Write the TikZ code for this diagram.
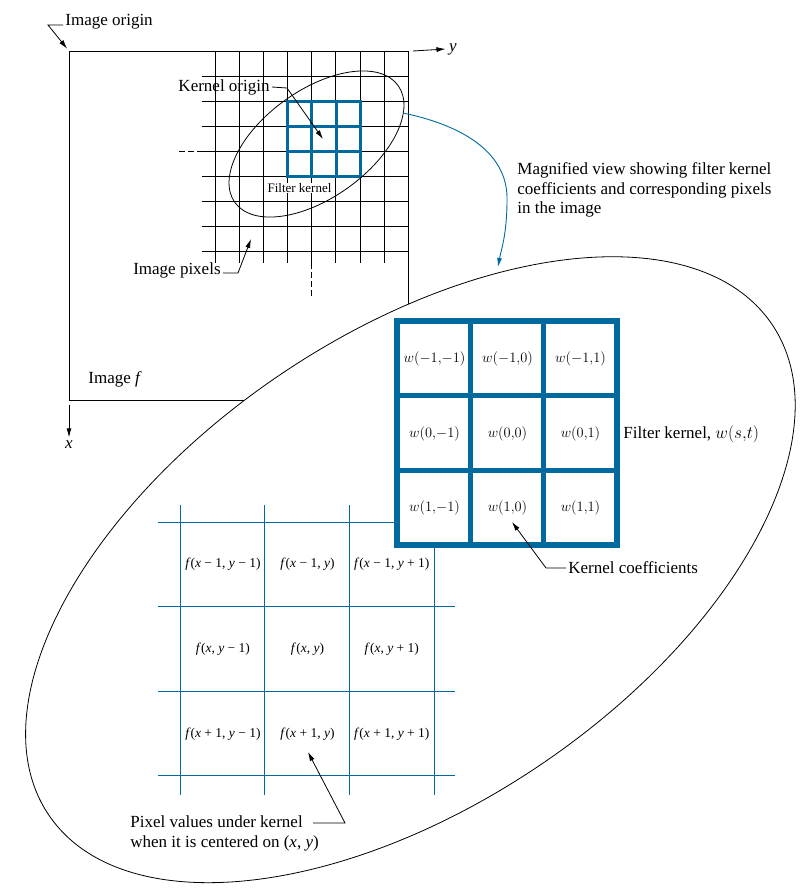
\documentclass[tikz,border=0pt]{standalone}
\usepackage{fontspec}
\setmainfont{Liberation Serif}
\usetikzlibrary{arrows.meta,positioning}
\definecolor{kblue}{RGB}{0,106,158}
\tikzset{
  lbl/.style={font=\fontsize{17}{19.5}\selectfont, inner sep=2pt},
  cell/.style={font=\fontsize{13.5}{16}\selectfont, inner sep=1pt},
  lead/.style={line width=0.8pt, -{Latex[length=9pt,width=5pt]}},
}
\begin{document}
\begin{tikzpicture}[x=1pt, y=-1pt, line width=0.8pt]
    \useasboundingbox (0,0) rectangle (811,895);

    % Image and axes
    \coordinate (tl) at (69,51);
    \coordinate (tr) at (408,51);
    \coordinate (bl) at (69,400);
    \draw (tl) rectangle (408,400);
    \node (yax) at (453,49) {\fontsize{17}{19}\selectfont\textit{y}};
    \node (xax) at (69,445) {\fontsize{17}{19}\selectfont\textit{x}};
    \draw[lead] ([xshift=5pt]tr) -- (yax.west);
    \draw[lead] ([yshift=-5pt]bl) -- (xax.north);

    % Image pixels
    \foreach \i in {0,...,7} \draw (215.3+24.1*\i,51) -- (215.3+24.1*\i,263);
    \foreach \j in {0,...,7} \draw (202,76+25*\j) -- (408,76+25*\j);
    \draw[dash pattern=on 6pt off 3pt] (179,151) -- (202,151);
    \draw[dash pattern=on 6pt off 3pt] (311.7,263) -- (311.7,296);

    % Small kernel
    \draw[kblue, line width=3pt] (287.3,101) rectangle (360.7,176);
    \foreach \i in {1,2} \draw[kblue, line width=3pt] (287.3+24.47*\i,101) -- ++(0,75);
    \foreach \j in {1,2} \draw[kblue, line width=3pt] (287.3,101+25*\j) -- ++(73.4,0);
    \draw (316.5,144) ellipse [x radius=100.4, y radius=53.9, rotate=35.6];
    \node[fill=white, inner sep=0.5pt, font=\fontsize{13}{15}\selectfont] (fk) at (299.5,188) {Filter kernel};

    % Labels of the image
    \node[lbl, anchor=west] (iorigin) at (63,22) {Image origin};
    \draw[lead, shorten >=3pt] ([yshift=-3pt]iorigin.west) -- ++(-15,0) -- (tl);
    \coordinate (kmid) at (323,139);
    \node[lbl, anchor=east] (korigin) at (272,87) {Kernel origin};
    \draw[lead] (korigin.east) -- ++(15,1) -- (kmid);
    \coordinate (pix) at (251,239);
    \node[lbl, anchor=east] (ipix) at (223,270) {Image pixels};
    \draw[lead] ([yshift=-3pt]ipix.east) -- ++(15,0) -- (pix);
    \node[lbl, anchor=west] (imf) at (86,379) {Image \textit{f}};

    % Magnified view
    \draw[fill=white] (410.4,569.7) ellipse [x radius=437, y radius=234.5, rotate=34.2];
    \coordinate (smallright) at (403,113);
    \coordinate (bigtop) at (498,267);
    \draw[kblue, line width=0.9pt, -{Latex[length=9pt,width=5pt]}]
        (smallright) .. controls (475,128) and (508,160) .. (507,200)
        .. controls (507,235) and (501,250) .. (bigtop);
    \node[lbl, anchor=west, align=left] (mag) at (515,190)
        {Magnified view showing filter kernel\\coefficients and corresponding pixels\\in the image};

    % Pixel values
    \foreach \i in {0,...,3} \draw[kblue, line width=1pt] (180+84.7*\i,505) -- (180+84.7*\i,795);
    \foreach \j in {0,...,3} \draw[kblue, line width=1pt] (158,522.3+84.5*\j) -- (455,522.3+84.5*\j);
    \node[cell] (f11) at (222.9,564.5) {\textit{f}(\textit{x} − 1, \textit{y} − 1)};
    \node[cell] (f12) at (307.5,564.5) {\textit{f}(\textit{x} − 1, \textit{y})};
    \node[cell] (f13) at (391.8,564.5) {\textit{f}(\textit{x} − 1, \textit{y} + 1)};
    \node[cell] (f21) at (222.9,649.2) {\textit{f}(\textit{x}, \textit{y} − 1)};
    \node[cell] (f22) at (307.5,649.2) {\textit{f}(\textit{x}, \textit{y})};
    \node[cell] (f23) at (391.8,649.2) {\textit{f}(\textit{x}, \textit{y} + 1)};
    \node[cell] (f31) at (222.9,733.7) {\textit{f}(\textit{x} + 1, \textit{y} − 1)};
    \node[cell] (f32) at (307.5,733.7) {\textit{f}(\textit{x} + 1, \textit{y})};
    \node[cell] (f33) at (391.8,733.7) {\textit{f}(\textit{x} + 1, \textit{y} + 1)};

    % Big kernel
    \filldraw[fill=white, draw=kblue, line width=5.5pt] (397,321) rectangle (617,545);
    \foreach \i in {1,2} \draw[kblue, line width=5.5pt] (397+73.33*\i,321) -- ++(0,224);
    \foreach \j in {1,2} \draw[kblue, line width=5.5pt] (397,321+74.67*\j) -- ++(220,0);
    \node[cell] (w11) at (434.5,359) {$w({-1}{,}{-1})$};
    \node[cell] (w12) at (507.5,359) {$w({-1}{,}0)$};
    \node[cell] (w13) at (580.5,359) {$w({-1}{,}1)$};
    \node[cell] (w21) at (434.5,434) {$w(0{,}{-1})$};
    \node[cell] (w22) at (507.5,434) {$w(0{,}0)$};
    \node[cell] (w23) at (580.5,434) {$w(0{,}1)$};
    \node[cell] (w31) at (434.5,508) {$w(1{,}{-1})$};
    \node[cell] (w32) at (507.5,508) {$w(1{,}0)$};
    \node[cell] (w33) at (580.5,508) {$w(1{,}1)$};
    \node[lbl, anchor=west] (fklabel) at (621,434) {Filter kernel, $w(s{,}t)$};

    % Leaders to the magnified view
    \coordinate (wtip) at (512,522);
    \node[lbl, anchor=west] (kcoef) at (566,568) {Kernel coefficients};
    \draw[lead] (kcoef.west) -- ++(-20,0) -- (wtip);
    \coordinate (ftip) at (308,752);
    \coordinate (pvtail) at (313,823);
    \node[lbl, anchor=west, align=left] (pv) at (128,833.5)
        {Pixel values under kernel\\when it is centered on (\textit{x}, \textit{y})};
    \draw[lead] (pvtail) -- (345,823) -- (ftip);
\end{tikzpicture}
\end{document}
